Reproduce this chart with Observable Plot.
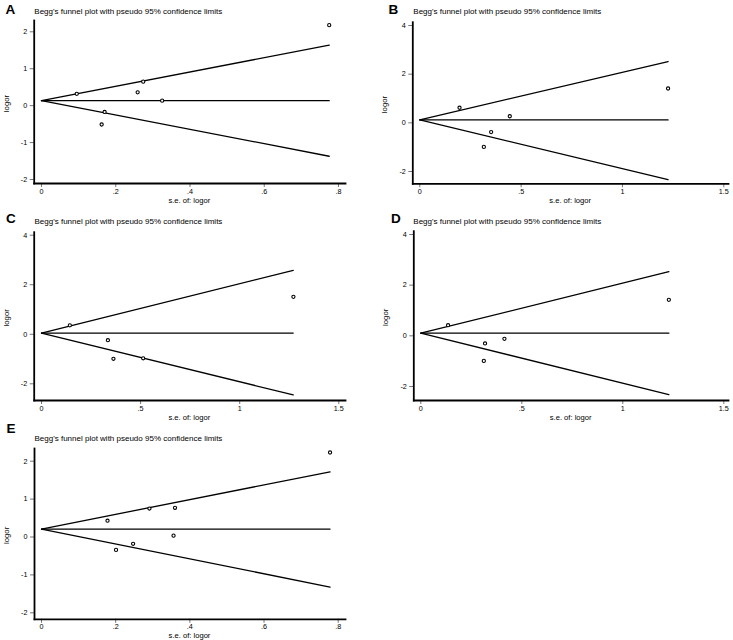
<!DOCTYPE html>
<html><head><meta charset="utf-8">
<script src="https://cdn.jsdelivr.net/npm/d3@7"></script>
<script src="https://cdn.jsdelivr.net/npm/@observablehq/plot@0.6"></script>
<style>
body{margin:0;background:#fff;}
#fig{position:relative;width:733px;height:640px;font-family:"Liberation Sans",Arial,Helvetica,sans-serif;}
#fig svg{position:absolute;overflow:visible;}
</style></head><body><div id="fig"></div>
<script>
const panelLetters = ["A","B","C","D","E"];
const titleText = "Begg's funnel plot with pseudo 95% confidence limits";
const xLabel = "s.e. of: logor";
const yLabel = "logor";

const seA = [0.095,0.259,0.274,0.325,0.170,0.162,0.775];
const logorA = [0.32,0.36,0.65,0.135,-0.17,-0.51,2.18];
const seB = [0.196,0.444,0.352,0.316,1.225];
const logorB = [0.62,0.27,-0.38,-0.99,1.41];
const seC = [0.143,0.335,0.363,0.513,1.271];
const logorC = [0.36,-0.24,-0.99,-0.97,1.51];
const seD = [0.135,0.318,0.414,0.312,1.228];
const logorD = [0.42,-0.30,-0.12,-0.99,1.42];
const seE = [0.178,0.291,0.36,0.356,0.247,0.201,0.778];
const logorE = [0.43,0.75,0.77,0.035,-0.18,-0.34,2.23];

// pooled estimate, s.e. where funnel ends, pseudo 95% limits at that end
const pooled = [0.135,0.12,0.05,0.105,0.21];
const funnelEndSE = [0.775,1.225,1.27,1.228,0.778];
const upperEnd = [1.64,2.52,2.58,2.53,1.72];
const lowerEnd = [-1.37,-2.33,-2.45,-2.32,-1.32];

const xTicksSmall = [0,0.2,0.4,0.6,0.8];
const xTickLabelsSmall = ["0",".2",".4",".6",".8"];
const xTicksLarge = [0,0.5,1,1.5];
const xTickLabelsLarge = ["0",".5","1","1.5"];
const yTicksSmall = [-2,-1,0,1,2];
const yTickLabelsSmall = ["-2","-1","0","1","2"];
const yTicksLarge = [-2,0,2,4];
const yTickLabelsLarge = ["-2","0","2","4"];

const seList = [seA,seB,seC,seD,seE];
const logorList = [logorA,logorB,logorC,logorD,logorE];
const xTickSets = [[xTicksSmall,xTickLabelsSmall],[xTicksLarge,xTickLabelsLarge],[xTicksLarge,xTickLabelsLarge],[xTicksLarge,xTickLabelsLarge],[xTicksSmall,xTickLabelsSmall]];
const yTickSets = [[yTicksSmall,yTickLabelsSmall],[yTicksLarge,yTickLabelsLarge],[yTicksLarge,yTickLabelsLarge],[yTicksLarge,yTickLabelsLarge],[yTicksSmall,yTickLabelsSmall]];

// page layout (pixels)
const layout = [
  {left:0,   top:0,   axisX:33.7,  topY:20,    bottomY:183,   rightX:345, xFirst:41,    xLast:338,   yTopTick:31.3,  yBotTick:179,   letterX:5.5, letterY:14.3, titleX:34.3, titleY:13.5},
  {left:367, top:0,   axisX:412.3, topY:21.7,  bottomY:183.3, rightX:728, xFirst:419.3, xLast:723.3, yTopTick:25,    yBotTick:171,   letterX:388.5, letterY:14, titleX:413.3, titleY:13.5},
  {left:0,   top:208, axisX:33.7,  topY:231.7, bottomY:400,   rightX:345, xFirst:41,    xLast:338.3, yTopTick:234.7, yBotTick:383.3, letterX:6, letterY:222.5, titleX:34.5, titleY:223.5},
  {left:367, top:208, axisX:413.3, topY:230.7, bottomY:400,   rightX:728, xFirst:420.3, xLast:723.3, yTopTick:234,   yBotTick:386,   letterX:391, letterY:222.5, titleX:413.3, titleY:223.5},
  {left:0,   top:418, axisX:34,    topY:448,   bottomY:618.8, rightX:345, xFirst:41,    xLast:337.7, yTopTick:460.7, yBotTick:612.3, letterX:6.5, letterY:433, titleX:34.5, titleY:440.5}
];

const fig = document.getElementById("fig");
const FONT = '"Liberation Sans",Arial,Helvetica,sans-serif';
const W = 366, H = 212;

layout.forEach((L, k) => {
  const pts = seList[k].map((s, i) => ({se: s, v: logorList[k][i]}));
  const [xt, xl] = xTickSets[k];
  const [yt, yl] = yTickSets[k];
  const upper = [{se: 0, v: pooled[k]}, {se: funnelEndSE[k], v: upperEnd[k]}];
  const lower = [{se: 0, v: pooled[k]}, {se: funnelEndSE[k], v: lowerEnd[k]}];
  const mid = [{se: 0, v: pooled[k]}, {se: funnelEndSE[k], v: pooled[k]}];
  const svg = Plot.plot({
    width: W, height: H,
    marginLeft: L.axisX - L.left,
    marginTop: L.topY - L.top,
    marginRight: L.left + W - L.rightX,
    marginBottom: L.top + H - L.bottomY,
    style: {fontFamily: FONT, fontSize: "7.2px", color: "#000", background: "transparent", overflow: "visible"},
    x: {domain: [xt[0], xt[xt.length-1]], insetLeft: L.xFirst - L.axisX, insetRight: L.rightX - L.xLast},
    y: {domain: [yt[0], yt[yt.length-1]], insetTop: L.yTopTick - L.topY, insetBottom: L.bottomY - L.yBotTick},
    marks: [
      Plot.line(upper, {x: "se", y: "v", stroke: "#000", strokeWidth: 1.3}),
      Plot.line(lower, {x: "se", y: "v", stroke: "#000", strokeWidth: 1.3}),
      Plot.line(mid, {x: "se", y: "v", stroke: "#000", strokeWidth: 1.3}),
      Plot.dot(pts, {x: "se", y: "v", r: 1.6, stroke: "#000", strokeWidth: 1.1, fill: "#fff"}),
      Plot.axisX(xt, {tickFormat: d => xl[xt.indexOf(d)], tickSize: 4, tickPadding: 1, label: null, stroke: "#777", fill: "#000"}),
      Plot.axisY(yt, {tickFormat: d => yl[yt.indexOf(d)], tickSize: 4, tickPadding: 3, label: null, stroke: "#777", fill: "#000"}),
      Plot.frame({anchor: "left", stroke: "#000", strokeWidth: 1.8}),
      Plot.frame({anchor: "bottom", stroke: "#000", strokeWidth: 1.8})
    ]
  });
  svg.style.left = L.left + "px";
  svg.style.top = L.top + "px";
  fig.appendChild(svg);
});

// overlay text
const ns = "http://www.w3.org/2000/svg";
const ov = document.createElementNS(ns, "svg");
ov.setAttribute("width", 733); ov.setAttribute("height", 640);
ov.style.left = "0px"; ov.style.top = "0px";
ov.setAttribute("font-family", FONT);
function txt(x, y, s, attrs) {
  const t = document.createElementNS(ns, "text");
  t.setAttribute("x", x); t.setAttribute("y", y);
  for (const a in attrs) t.setAttribute(a, attrs[a]);
  t.textContent = s;
  ov.appendChild(t);
}
layout.forEach((L, k) => {
  txt(L.letterX, L.letterY, panelLetters[k], {"font-size": 13.5, "font-weight": "bold"});
  txt(L.titleX, L.titleY, titleText, {"font-size": 8});
  txt((L.axisX + L.rightX) / 2, L.bottomY + 19.5, xLabel, {"font-size": 7.6, "text-anchor": "middle"});
  const cy = (L.topY + L.bottomY) / 2 + 2;
  const lx = L.axisX - 25;
  txt(0, 0, yLabel, {"font-size": 7.8, "text-anchor": "middle", transform: `translate(${lx},${cy}) rotate(-90)`});
});
fig.appendChild(ov);
</script></body></html>
